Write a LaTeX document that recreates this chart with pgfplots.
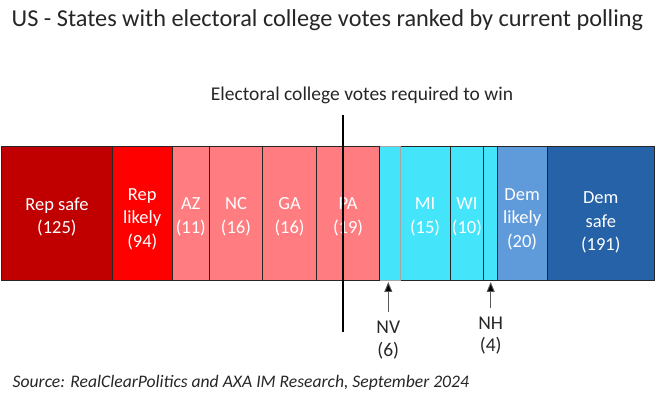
\documentclass[border=0pt]{standalone}
\usepackage{fontspec}
\setmainfont{Carlito}
\usepackage{pgfplots}
\pgfplotsset{compat=1.18}
\usetikzlibrary{arrows.meta}
\definecolor{rsafe}{HTML}{C00000}
\definecolor{rlikely}{HTML}{FF0000}
\definecolor{rswing}{HTML}{FF7C80}
\definecolor{dswing}{HTML}{44E5FB}
\definecolor{dlikely}{HTML}{5F9BDB}
\definecolor{dsafe}{HTML}{2562A8}
\definecolor{txt}{HTML}{262626}
\tikzset{lab/.style={text=white, align=center, inner sep=0pt, font=\fontsize{18.5}{23.5}\selectfont}}
\begin{document}
\begin{tikzpicture}[x=1pt,y=1pt]
\path[use as bounding box] (0,0) rectangle (655,395);
\begin{axis}[
  at={(1.7pt,115pt)}, anchor=south west,
  scale only axis, width=652.6pt, height=134pt,
  xmin=0, xmax=195, ymin=-0.5, ymax=0.5,
  axis lines=none, xbar stacked, bar width=134pt,
  clip=false,
  every axis plot/.append style={draw=black!85, line width=0.9pt},
]
\addplot[fill=rsafe] coordinates {(33,0)};
\addplot[fill=rlikely] coordinates {(18,0)};
\addplot[fill=rswing] coordinates {(11,0)};
\addplot[fill=rswing] coordinates {(16,0)};
\addplot[fill=rswing] coordinates {(16,0)};
\addplot[fill=rswing] coordinates {(19,0)};
\addplot[fill=dswing, draw=black!35] coordinates {(6,0)};
\addplot[fill=dswing] coordinates {(15,0)};
\addplot[fill=dswing] coordinates {(10,0)};
\addplot[fill=dswing] coordinates {(4,0)};
\addplot[fill=dlikely] coordinates {(15,0)};
\addplot[fill=dsafe] coordinates {(32,0)};
\coordinate (l1) at (axis cs:16.5,-0.03);
\coordinate (l2) at (axis cs:42,-0.045);
\coordinate (l3) at (axis cs:56.5,-0.03);
\coordinate (l4) at (axis cs:70,-0.03);
\coordinate (l5) at (axis cs:86,-0.03);
\coordinate (l6) at (axis cs:103.5,-0.03);
\coordinate (l7) at (axis cs:126.5,-0.03);
\coordinate (l8) at (axis cs:139,-0.03);
\coordinate (l9) at (axis cs:155.5,-0.045);
\coordinate (l10) at (axis cs:179,-0.07);
\coordinate (vb) at (axis cs:102,-0.888);
\coordinate (vt) at (axis cs:102,0.731);
\end{axis}
\node[lab] at (l1) {Rep safe\\(125)};
\node[lab] at (l2) {Rep\\likely\\(94)};
\node[lab] at (l3) {AZ\\(11)};
\node[lab] at (l4) {NC\\(16)};
\node[lab] at (l5) {GA\\(16)};
\node[lab] at (l6) {PA\\(19)};
\node[lab] at (l7) {MI\\(15)};
\node[lab] at (l8) {WI\\(10)};
\node[lab] at (l9) {Dem\\likely\\(20)};
\node[lab] at (l10) {Dem\\safe\\(191)};
\draw[black, line width=1.8pt] (vb) -- (vt);
\draw[-{Triangle[width=8pt,length=10pt,fill=black]}, black!65, line width=0.9pt] (388.3,83.3) -- (388.3,113);
\draw[-{Triangle[width=8pt,length=10pt,fill=black]}, black!65, line width=0.9pt] (490.7,87) -- (490.7,113);
\node[text=txt, align=center, inner sep=0pt, font=\fontsize{19.5}{22.5}\selectfont] at (388.3,55) {NV\\(6)};
\node[text=txt, align=center, inner sep=0pt, font=\fontsize{19.5}{22.5}\selectfont] at (490.7,59.5) {NH\\(4)};
\node[text=txt, inner sep=0pt, font=\fontsize{19.5}{23}\selectfont] at (362,300) {Electoral college votes required to win};
\node[text=txt, anchor=west, inner sep=0pt, font=\fontsize{24.3}{28}\selectfont] at (11.5,375) {US - States with electoral college votes ranked by current polling};
\node[text=txt, anchor=west, inner sep=0pt, font=\fontsize{17.6}{21}\selectfont\itshape] at (12.5,12) {Source: RealClearPolitics and AXA IM Research, September 2024};
\end{tikzpicture}
\end{document}
